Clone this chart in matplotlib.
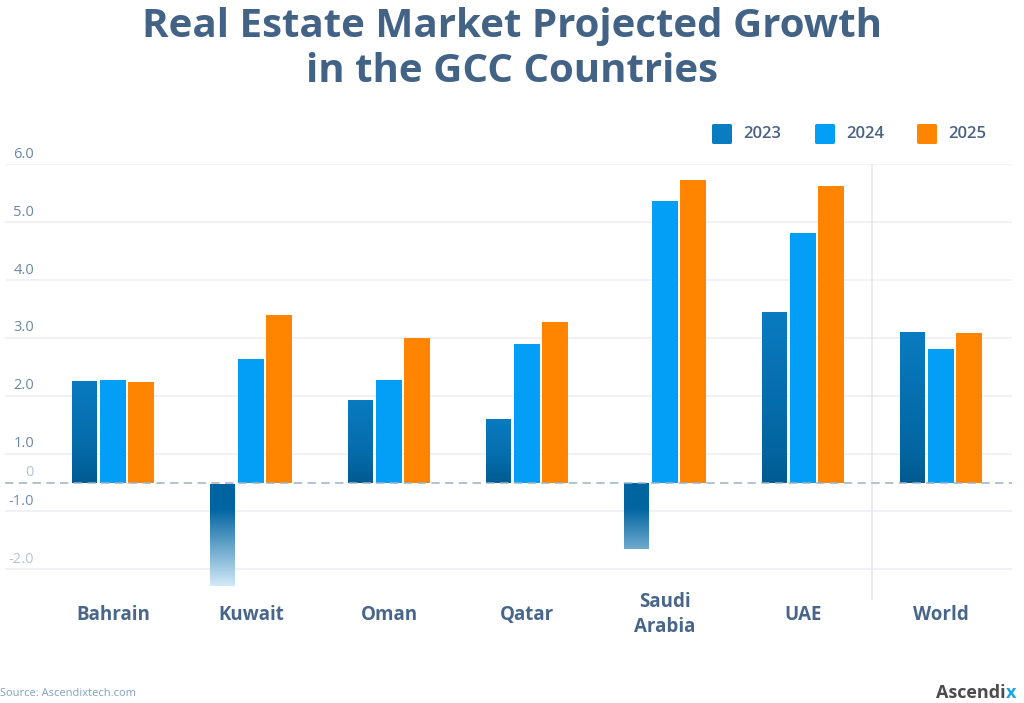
import numpy as np
import matplotlib
matplotlib.use("Agg")
import matplotlib.pyplot as plt
import matplotlib.transforms as mtransforms
from matplotlib.patches import FancyBboxPatch
from matplotlib.colors import to_rgb

# ---------------- data ----------------
categories = ["Bahrain", "Kuwait", "Oman", "Qatar", "Saudi\nArabia", "UAE", "World"]
years = ["2023", "2024", "2025"]
growth_2023 = [2.27, -2.28, 1.94, 1.61, -1.65, 3.46, 3.11]
growth_2024 = [2.28, 2.64, 2.27, 2.89, 5.37, 4.81, 2.81]
growth_2025 = [2.23, 3.40, 2.99, 3.28, 5.73, 5.63, 3.09]
y_ticks = [6, 5, 4, 3, 2, 1, 0, -1, -2]
y_tick_labels = ["6.0", "5.0", "4.0", "3.0", "2.0", "1.0", "0", "-1.0", "-2.0"]

# ---------------- style ----------------
C2023 = "#0a7cc2"
C2023_DARK = "#005a90"
C2024 = "#039ff7"
C2025 = "#ff8500"
TITLE_C = "#436386"
LABEL_C = "#48668a"
GRID_C = "#ececf4"
FONT = "Open Sans"

W, H = 1024, 703
fig = plt.figure(figsize=(W / 100, H / 100), dpi=100)
fig.patch.set_facecolor("white")


def fx(px):
    return px / W


def fy(py):
    return 1 - py / H


ax_left, ax_right, ax_top, ax_bottom = 5, 1012, 164.3, 600
ax = fig.add_axes([fx(ax_left), fy(ax_bottom), fx(ax_right - ax_left),
                   (ax_bottom - ax_top) / H])


# the chart's own axis: labelled gridlines are one unit apart, but the
# band between -1 and 1 is compressed around the 0 baseline
def forward(v):
    v = np.asarray(v, dtype=float)
    return np.where(np.abs(v) < 1, 0.5 * v, v - 0.5 * np.sign(v))


def inverse(u):
    u = np.asarray(u, dtype=float)
    return np.where(np.abs(u) < 0.5, 2 * u, u + 0.5 * np.sign(u))


ax.set_yscale("function", functions=(forward, inverse))
ax.set_ylim(-2.53, 6)
ax.set_xlim(-0.783, 6.514)

x = np.arange(len(categories))
bw = 0.188
off = 0.204
series = [growth_2023, growth_2024, growth_2025]
colors = [C2023, C2024, C2025]
containers = []
for i, (vals, c) in enumerate(zip(series, colors)):
    cont = ax.bar(x + (i - 1) * off, vals, width=bw, color=c, zorder=3,
                  linewidth=0)
    containers.append(cont)

# gradient fill for 2023 bars
dark = np.array(to_rgb(C2023_DARK))
top_c = np.array(to_rgb(C2023))
neg_dark = np.array(to_rgb("#0064a0"))
neg_light = np.array(to_rgb("#d4eaf8"))
for rect, v in zip(containers[0].patches, growth_2023):
    x0 = rect.get_x() - 0.02
    x1 = rect.get_x() + rect.get_width() + 0.02
    n = 200
    if v >= 0:
        t = np.linspace(0, 1, n)[:, None]  # bottom -> top
        img = dark[None, :] * (1 - t) + top_c[None, :] * t
        img = img[::-1][:, None, :]
        extent = [x0, x1, -0.05, v + 0.05]
    else:
        vv = np.linspace(0.05, v - 0.05, n)
        uu = forward(vv)
        f = np.clip((-uu - 0.45) / (1.8 - 0.45), 0, 1)[:, None]
        img = neg_dark[None, :] * (1 - f) + neg_light[None, :] * f
        img = img[:, None, :]
        extent = [x0, x1, v - 0.05, 0.05]
    rect.set_facecolor("none")
    im = ax.imshow(img, extent=extent, aspect="auto", origin="upper",
                   zorder=4, interpolation="bilinear")
    im.set_clip_path(rect)

ax.set_xlim(-0.783, 6.514)
ax.set_ylim(-2.53, 6)

# gridlines + zero baseline
for t in y_ticks:
    if t == 0:
        ax.axhline(0, color="#9db2c7", lw=1.1, linestyle=(0, (5.5, 3.5)),
                   zorder=5)
    else:
        ax.axhline(t, color=GRID_C, lw=1.1, zorder=1)
ax.axvline(5.5, color="#e4e4ee", lw=1.1, zorder=1)

# y labels, sitting just above their lines
tick_colors = {"0": "#b2c5d8", "-2.0": "#b2c5d8", "-1.0": "#6f8cad"}
blend = mtransforms.blended_transform_factory(ax.transAxes, ax.transData)
for t, lab in zip(y_ticks, y_tick_labels):
    tr = blend + mtransforms.ScaledTranslation(0, 2.5 / 100, fig.dpi_scale_trans)
    ax.text((34 - ax_left) / (ax_right - ax_left), t, lab,
            transform=tr, ha="right", va="bottom", fontsize=10.5,
            color=tick_colors.get(lab, "#6b87a7"), family=FONT)

for s in ax.spines.values():
    s.set_visible(False)
ax.set_yticks([])
ax.set_xticks(x, categories)
ax.tick_params(axis="x", length=0, pad=10.5)
for lbl in ax.get_xticklabels():
    lbl.set_va("center")
    lbl.set_fontsize(13.5)
    lbl.set_fontweight("bold")
    lbl.set_color(LABEL_C)
    lbl.set_family(FONT)
    lbl.set_linespacing(1.3)

# title
fig.text(0.5, fy(27), "Real Estate Market Projected Growth", ha="center",
         va="center", fontsize=29, fontweight="bold", color=TITLE_C, family=FONT)
fig.text(0.5, fy(71), "in the GCC Countries", ha="center", va="center",
         fontsize=29, fontweight="bold", color=TITLE_C, family=FONT)

# legend
leg_sq_x = [712, 815, 917]
for lx, yr, c in zip(leg_sq_x, years, colors):
    sq = FancyBboxPatch((fx(lx), fy(144)), fx(20), 20 / H,
                        boxstyle="round,pad=0,rounding_size=0.002",
                        transform=fig.transFigure, facecolor=c,
                        edgecolor="none")
    fig.patches.append(sq)
    fig.text(fx(lx + 31), fy(134), yr, ha="left", va="center", fontsize=12,
             fontweight="semibold", color="#4a6383", family=FONT)

# footer
fig.text(fx(0), fy(694), "Source: Ascendixtech.com", ha="left", va="center",
         fontsize=8, color="#7fa2c6", family=FONT)
fig.text(fx(1006), fy(693), "Ascendi", ha="right", va="center",
         fontsize=13, fontweight="bold", color="#4b4b4b", family=FONT)
fig.text(fx(1006), fy(693), "x", ha="left", va="center", fontsize=13,
         fontweight="bold", color="#1aa7e8", family=FONT)

fig.savefig("out.png", dpi=100, facecolor="white")
